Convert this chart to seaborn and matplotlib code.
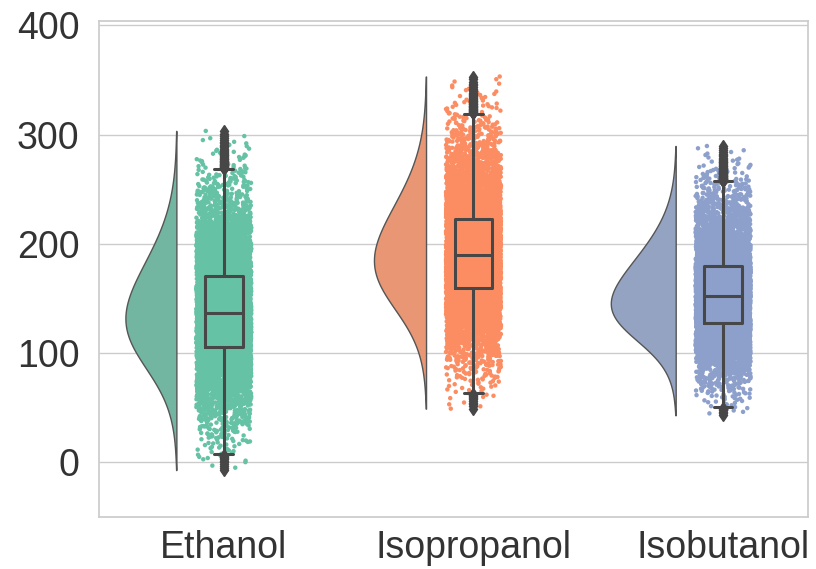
import numpy as np
import pandas as pd
import seaborn as sns
import matplotlib.pyplot as plt
from matplotlib.transforms import Affine2D
from statistics import NormalDist

# ---- data (summary) ----
categories = ["Ethanol", "Isopropanol", "Isobutanol"]
medians = [137, 190, 152]
sd_low = [45, 44, 34]
sd_high = [52, 51, 43]
n_points = 8000
z_extreme = 3.2
colors = ["#66c2a5", "#fc8d62", "#8da0cb"]
y_ticks = [0, 100, 200, 300, 400]

nd = NormalDist()
probs = np.linspace(nd.cdf(-z_extreme), nd.cdf(z_extreme), n_points)
zq = np.array([nd.inv_cdf(p) for p in probs])
frames = []
for cat, m, lo, hi in zip(categories, medians, sd_low, sd_high):
    spread = lo + (hi - lo) * probs
    vals = m + zq * spread
    frames.append(pd.DataFrame({"group": cat, "value": vals}))
df = pd.concat(frames, ignore_index=True)

# ---- style ----
sns.set_theme(style="whitegrid")
plt.rcParams["font.family"] = ["Liberation Sans", "DejaVu Sans"]

fig = plt.figure(figsize=(8.16, 5.69), dpi=100)
ax = fig.add_axes([99 / 816, 52 / 569, 709 / 816, 496 / 569])

violin_width = 0.26
np.random.seed(3)
sns.violinplot(data=df, x="group", y="value", order=categories, split=True,
               inner=None, cut=0, density_norm="area", width=violin_width,
               linewidth=1.0, linecolor="#555555", color=colors[0], ax=ax)
vcols = list(ax.collections)
for coll, c in zip(vcols, colors):
    coll.set_facecolor(sns.desaturate(c, 0.75))
    coll.set_transform(Affine2D().translate(-0.19 - violin_width / 2, 0) + ax.transData)

sns.stripplot(data=df, x="group", y="value", order=categories, hue="group",
              hue_order=categories, palette=colors, legend=False,
              jitter=0.11, size=3.2, linewidth=0, ax=ax, zorder=1)

sns.boxplot(data=df, x="group", y="value", order=categories, width=0.15,
            fill=False, color="#474747", linewidth=2.2,
            flierprops=dict(marker="d", markerfacecolor="#474747",
                            markeredgecolor="#474747", markersize=6),
            ax=ax)

ax.set_xlim(-0.5, 2.34)
ax.set_ylim(-50, 404)
ax.set_yticks(y_ticks)
ax.set_xlabel("")
ax.set_ylabel("")
ax.tick_params(axis="both", labelsize=27, length=0, colors="#333333")
ax.tick_params(axis="y", pad=14)
ax.tick_params(axis="x", pad=9)
ax.xaxis.grid(False)
for s in ax.spines.values():
    s.set_color("#cccccc")

fig.savefig("out.png", dpi=100)
